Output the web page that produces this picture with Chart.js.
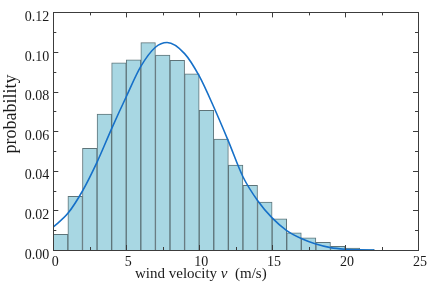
<!DOCTYPE html>
<html>
<head>
<meta charset="utf-8">
<script src="https://cdn.jsdelivr.net/npm/chart.js@4.4.1/dist/chart.umd.min.js"></script>
<style>
html,body{margin:0;padding:0;background:#ffffff;}
#wrap{width:429px;height:293px;position:relative;}
</style>
</head>
<body>
<div id="wrap"><canvas id="c"></canvas></div>
<script>
// ---- data ----
const binStarts = [0,1,2,3,4,5,6,7,8,9,10,11,12,13,14,15,16,17,18,19,20,21];
const binProbabilities = [0.0079,0.0271,0.0513,0.0687,0.0945,0.0961,0.1047,0.0985,0.0958,0.0890,0.0706,0.0560,0.0429,0.0327,0.0242,0.0158,0.0087,0.0061,0.0039,0.0019,0.0010,0.0003];
const curveVelocities = [0,1,2,3,4,5,6,7,7.8,9,10,11,12,13,14,15,16,17,18,19,20,21,22];
const curveProbabilities = [0.0116,0.0185,0.0298,0.0444,0.0613,0.0774,0.0927,0.1024,0.1048,0.0992,0.0879,0.0722,0.0550,0.0370,0.0250,0.0162,0.0098,0.0058,0.0030,0.0012,0.0004,0.0001,0.0000];
const xTickValues = [0,5,10,15,20,25];
const yTickValues = [0,0.02,0.04,0.06,0.08,0.10,0.12];
const xTitleParts = ["wind velocity ", "v", "  (m/s)"];
const yTitle = "probability";

const SERIF = "'Liberation Serif','DejaVu Serif',serif";

const framePlugin = {
  id: 'frame',
  afterDatasetsDraw(chart) {
    const {ctx, chartArea: a, scales: {x, y}} = chart;
    ctx.save();
    ctx.strokeStyle = '#3c3c3c';
    ctx.lineWidth = 1;
    ctx.beginPath();
    for (let v = 0; v <= 25.001; v += 2.5) {
      const px = Math.round(x.getPixelForValue(v)) + 0.5;
      const len = (Math.abs(v % 5) < 1e-6) ? 5 : 3;
      ctx.moveTo(px, a.bottom); ctx.lineTo(px, a.bottom - len);
      ctx.moveTo(px, a.top); ctx.lineTo(px, a.top + len);
    }
    for (let i = 0; i <= 12; i++) {
      const v = i * 0.01;
      const py = Math.round(y.getPixelForValue(v)) + 0.5;
      const len = (i % 2 === 0) ? 5 : 3;
      ctx.moveTo(a.left, py); ctx.lineTo(a.left + len, py);
      ctx.moveTo(a.right, py); ctx.lineTo(a.right - len, py);
    }
    ctx.stroke();
    ctx.strokeRect(Math.round(a.left) + 0.5, Math.round(a.top) + 0.5,
                   Math.round(a.right - a.left), Math.round(a.bottom - a.top));
    ctx.restore();
  },
  afterDraw(chart) {
    const {ctx} = chart;
    ctx.save();
    ctx.fillStyle = '#1a1a1a';
    ctx.textBaseline = 'alphabetic';
    ctx.textAlign = 'left';
    let tx = 135, ty = 278;
    const fonts = ["15px " + SERIF, "italic 15px " + SERIF, "15px " + SERIF];
    xTitleParts.forEach((t, i) => {
      ctx.font = fonts[i];
      ctx.fillText(t, tx, ty);
      tx += ctx.measureText(t).width;
    });
    ctx.translate(11, 114);
    ctx.rotate(-Math.PI / 2);
    ctx.font = "18px " + SERIF;
    ctx.textAlign = 'center';
    ctx.textBaseline = 'middle';
    ctx.fillText(yTitle, 0, 0);
    ctx.restore();
  }
};

const ctx = document.getElementById('c').getContext('2d');
new Chart(ctx, {
  type: 'bar',
  data: {
    datasets: [
      {
        type: 'line',
        data: curveVelocities.map((v, i) => ({x: v, y: curveProbabilities[i]})),
        borderColor: '#1670c8',
        borderWidth: 1.6,
        pointRadius: 0,
        cubicInterpolationMode: 'monotone',
        fill: false,
        order: 0
      },
      {
        type: 'bar',
        data: binStarts.map((s, i) => ({x: s + 0.5, y: binProbabilities[i]})),
        backgroundColor: '#a8d7e3',
        borderColor: '#5e7479',
        borderWidth: 1,
        borderSkipped: 'start',
        barPercentage: 1,
        categoryPercentage: 1,
        order: 1
      }
    ]
  },
  options: {
    responsive: true,
    maintainAspectRatio: false,
    animation: false,
    devicePixelRatio: 1,
    layout: {padding: {top: 2, right: 10.7, left: 0, bottom: 0}},
    plugins: {legend: {display: false}, tooltip: {enabled: false}, title: {display: false}},
    scales: {
      x: {
        type: 'linear',
        offset: false,
        min: 0, max: 25,
        grid: {display: false, drawTicks: false, offset: false},
        border: {display: false},
        afterBuildTicks: s => { s.ticks = xTickValues.map(v => ({value: v})); },
        afterFit: s => { s.height = 43; },
        ticks: {
          color: '#1a1a1a',
          font: {family: SERIF, size: 14},
          padding: 4,
          labelOffset: 2,
          maxRotation: 0,
          callback: v => String(v)
        }
      },
      y: {
        type: 'linear',
        min: 0, max: 0.12,
        grid: {display: false, drawTicks: false},
        border: {display: false},
        afterBuildTicks: s => { s.ticks = yTickValues.map(v => ({value: v})); },
        afterFit: s => { s.width = 53.3; },
        ticks: {
          color: '#1a1a1a',
          font: {family: SERIF, size: 14},
          padding: 4,
          labelOffset: 5,
          callback: v => Number(v).toFixed(2)
        }
      }
    }
  },
  plugins: [framePlugin]
});
</script>
</body>
</html>
